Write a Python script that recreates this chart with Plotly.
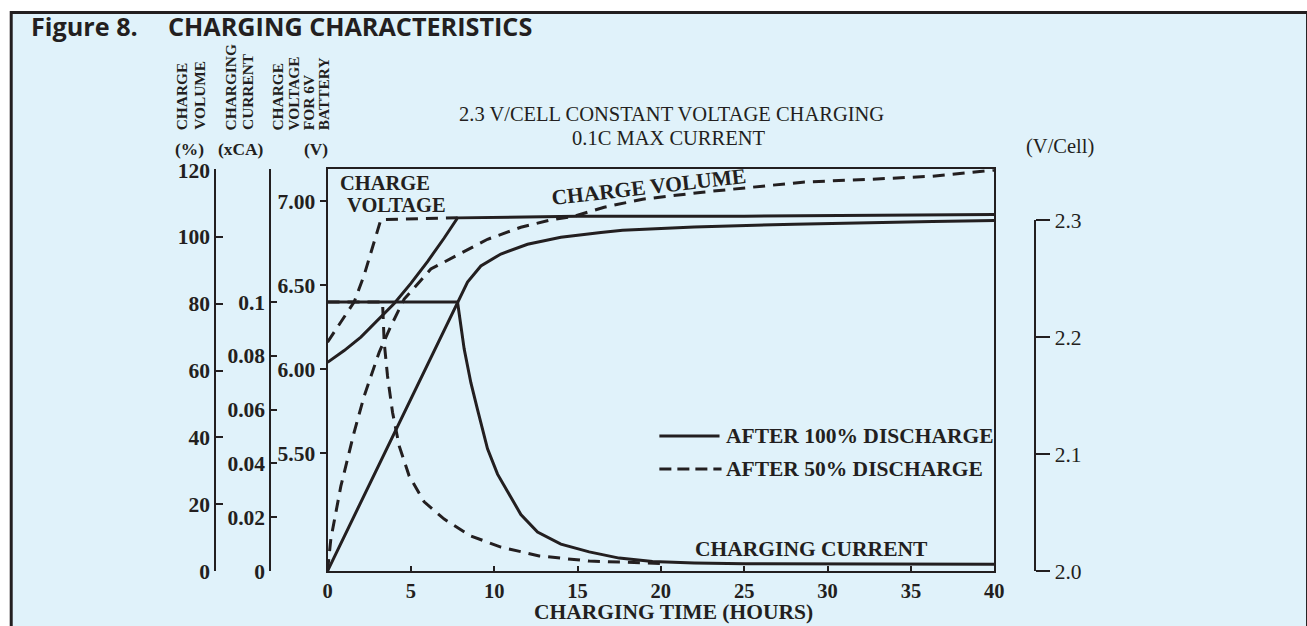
import plotly.graph_objects as go

# ---------------- data ----------------
hours_ticks = [0, 5, 10, 15, 20, 25, 30, 35, 40]

# charge voltage for 6V battery (V)
t_volt_100 = [0, 1, 2, 3, 4, 5, 6, 7, 7.8, 15, 25, 40]
volt_100 = [6.04, 6.11, 6.19, 6.29, 6.39, 6.51, 6.64, 6.78, 6.90, 6.91, 6.91, 6.92]
t_volt_50 = [0, 0.8, 1.6, 2.2, 2.9, 3.2, 7.8]
volt_50 = [6.16, 6.28, 6.40, 6.56, 6.79, 6.89, 6.90]

# charge volume (%)
t_vol_100 = [0, 7.8, 8.4, 9.2, 10.4, 12.0, 14.0, 16.4, 17.7, 22, 28, 36.3, 40]
vol_100 = [0, 80.5, 86.5, 91.3, 94.9, 97.8, 99.9, 101.3, 102.0, 103.0, 103.8, 104.6, 104.9]
t_vol_50 = [0, 0.2, 0.8, 1.6, 2.2, 3.1, 3.8, 4.6, 6.2, 7.6, 9.6, 11.6, 13.3, 14.8,
            16.6, 18.9, 22.5, 26.1, 28.5, 32.7, 36.3, 40]
vol_50 = [0, 9.6, 25.4, 41.6, 52.4, 65.5, 73.3, 81.4, 90.4, 94.0, 99.3, 102.9, 105.0, 106.2,
          108.9, 111.3, 113.4, 115.2, 116.4, 117.3, 118.2, 120.0]

# charging current (xCA)
t_cur_100 = [0, 7.8, 8.2, 8.6, 9.0, 9.6, 10.2, 10.8, 11.6, 12.6, 14.0, 15.7, 17.5, 19.5, 22, 25, 30, 40]
cur_100 = [0.1, 0.1, 0.0825, 0.070, 0.060, 0.0454, 0.036, 0.0294, 0.021, 0.0145, 0.0100,
           0.0071, 0.0048, 0.0035, 0.0030, 0.0027, 0.0026, 0.0025]
t_cur_50 = [0, 3.3, 3.4, 3.6, 3.9, 4.3, 4.9, 5.8, 7.0, 8.6, 10.4, 12.7, 15.7, 20]
cur_50 = [0.1, 0.1, 0.085, 0.0725, 0.059, 0.0465, 0.0353, 0.0257, 0.0193, 0.0130,
          0.0089, 0.0056, 0.0037, 0.0028]

# axis tick labels
volt_ticks = [5.5, 6.0, 6.5, 7.0]
volt_labels = ["5.50", "6.00", "6.50", "7.00"]
vol_ticks = [0, 20, 40, 60, 80, 100, 120]
cur_ticks = [0, 0.02, 0.04, 0.06, 0.08, 0.1]
cur_labels = ["0", "0.02", "0.04", "0.06", "0.08", "0.1"]
cell_ticks = [2.0, 2.1, 2.2, 2.3]
cell_labels = ["2.0", "2.1", "2.2", "2.3"]

# ---------------- styling ----------------
W, H = 1307, 626
INK = "#231f20"
BG = "#e0f2fa"
SERIF = "Liberation Serif, Times New Roman, serif"
SANS = "Open Sans, Noto Sans, sans-serif"
DASH = "12px,8px"

# the photographed page comes out slightly scaled/offset; place things so
# that they land where the reference shows them
SX, OX = 0.986, 5.3
SY, OY = 0.962, 11.8


def px(ix):
    return ((ix - OX) / SX) / W


def py(iy):
    return 1 - ((iy - OY) / SY) / H


def fs(size):
    return round(size / 0.975, 1)


fig = go.Figure()


def add_curve(t, v, yaxis, dash):
    fig.add_trace(go.Scatter(x=t, y=v, yaxis=yaxis, mode="lines",
                             line=dict(color=INK, width=3, dash=dash),
                             showlegend=False, hoverinfo="skip"))


add_curve(t_volt_100, volt_100, "y", "solid")
add_curve(t_volt_50, volt_50, "y", DASH)
add_curve(t_vol_100, vol_100, "y2", "solid")
add_curve(t_vol_50, vol_50, "y2", DASH)
add_curve(t_cur_100, cur_100, "y3", "solid")
add_curve(t_cur_50, cur_50, "y3", DASH)
# carrier for the V/Cell scale
fig.add_trace(go.Scatter(x=[None], y=[None], yaxis="y4", mode="lines",
                         showlegend=False, hoverinfo="skip"))

bold21 = dict(family=SERIF, size=fs(21), color=INK, weight="bold")
bold20 = dict(family=SERIF, size=fs(20), color=INK, weight="bold")
reg21 = dict(family=SERIF, size=fs(21), color=INK)

plot_dom = [py(572), py(170)]

fig.update_layout(
    width=W, height=H, autosize=False,
    margin=dict(l=0, r=0, t=0, b=0),
    paper_bgcolor="white", plot_bgcolor="rgba(0,0,0,0)",
    showlegend=False,
    xaxis=dict(domain=[px(327), px(992)], range=[0, 40], tickvals=hours_ticks,
               ticks="inside", ticklen=5, tickwidth=2, tickcolor=INK,
               showline=True, linewidth=2, linecolor=INK, mirror=True,
               showgrid=False, zeroline=False, tickfont=bold20, anchor="y"),
    yaxis=dict(domain=plot_dom, range=[4.798, 7.190], tickvals=volt_ticks, ticktext=volt_labels,
               ticks="outside", ticklen=6, tickwidth=2, tickcolor=INK,
               showline=True, linewidth=2, linecolor=INK, mirror=True,
               showgrid=False, zeroline=False, tickfont=bold21),
    yaxis2=dict(overlaying="y", anchor="free", position=px(215), side="left",
                range=[0, 120.3], tickvals=vol_ticks,
                ticks="inside", ticklen=7, tickwidth=2, tickcolor=INK,
                showline=True, linewidth=2, linecolor=INK,
                showgrid=False, zeroline=False, tickfont=bold21),
    yaxis3=dict(overlaying="y", anchor="free", position=px(270), side="left",
                range=[0, 0.1494], tickvals=cur_ticks, ticktext=cur_labels,
                ticks="inside", ticklen=6, tickwidth=2, tickcolor=INK,
                showline=True, linewidth=2, linecolor=INK,
                showgrid=False, zeroline=False, tickfont=bold21),
    yaxis4=dict(anchor="free", position=px(1033), side="right",
                domain=[py(572), py(221)], range=[2.0, 2.3],
                tickvals=cell_ticks, ticktext=cell_labels,
                ticks="outside", ticklen=14, tickwidth=2, tickcolor=INK,
                showline=True, linewidth=2, linecolor=INK,
                showgrid=False, zeroline=False, tickfont=reg21),
)

# background panel with frame (open at the bottom)
fig.add_shape(type="rect", xref="paper", yref="paper",
              x0=px(11.5), x1=px(1304.5), y0=-0.2, y1=1 - 1.5 / H,
              line=dict(color=INK, width=3), fillcolor=BG, layer="below")

# legend swatches
fig.add_shape(type="line", xref="paper", yref="paper", x0=px(658), x1=px(718),
              y0=py(437), y1=py(437), line=dict(color=INK, width=3))
fig.add_shape(type="line", xref="paper", yref="paper", x0=px(658), x1=px(720),
              y0=py(470), y1=py(470), line=dict(color=INK, width=3, dash="12px,6px"))


def note(x, y, text, font, xanchor="center", yanchor="middle", angle=0, align="center"):
    fig.add_annotation(x=px(x), y=py(y), xref="paper", yref="paper", text=text,
                       showarrow=False, font=font, xanchor=xanchor, yanchor=yanchor,
                       textangle=angle, align=align)


title_font = dict(family=SANS, size=fs(24.6), color=INK, weight="bold")
note(29, 27, "Figure 8.", title_font, xanchor="left")
note(166, 27, "CHARGING CHARACTERISTICS", title_font, xanchor="left")

# rotated column headers, one annotation per line
hdr = dict(family=SERIF, size=fs(15), color=INK, weight="bold")
header_lines = [(181, "CHARGE"), (199, "VOLUME"),
                (230, "CHARGING"), (247, "CURRENT"),
                (277, "CHARGE"), (293, "VOLTAGE"), (308, "FOR 6V"), (323, "BATTERY")]
for hx, htxt in header_lines:
    note(hx, 133, htxt, hdr, yanchor="bottom", angle=-90)

unit = dict(family=SERIF, size=fs(17), color=INK, weight="bold")
note(189, 150, "(%)", unit)
note(241, 150, "(xCA)", unit)
note(316, 150, "(V)", unit)

sub = dict(family=SERIF, size=fs(20), color=INK)
note(670, 115, "2.3 V/CELL CONSTANT VOLTAGE CHARGING", sub)
note(668, 139, "0.1C MAX CURRENT", sub)
note(1058, 147, "(V/Cell)", sub)

cv = dict(family=SERIF, size=fs(20), color=INK, weight="bold")
note(337, 184, "CHARGE", cv, xanchor="left")
note(344, 206, "VOLTAGE", cv, xanchor="left")
note(648, 188, "CHARGE VOLUME", bold21, angle=-6.5)
note(810, 550, "CHARGING CURRENT", bold21)
note(722, 437, "AFTER 100% DISCHARGE", bold21, xanchor="left")
note(722, 470, "AFTER 50% DISCHARGE", bold21, xanchor="left")
note(672, 613, "CHARGING TIME (HOURS)", bold21)

# the page itself must not add a margin around the 1307x626 figure
fig.write_html(
    "out.html",
    config={"displayModeBar": False},
    post_script=("document.documentElement.style.margin='0';"
                 "document.body.style.margin='0';"
                 "document.documentElement.style.overflow='hidden';"
                 "document.body.style.overflow='hidden';"),
)
